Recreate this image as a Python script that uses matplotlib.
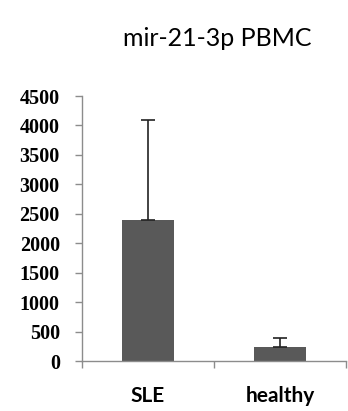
import matplotlib
matplotlib.use("Agg")
import matplotlib.pyplot as plt
from matplotlib.ticker import FixedLocator, NullFormatter

title = "mir-21-3p PBMC"
categories = ["SLE", "healthy"]
values = [2390, 245]
errors_up = [1710, 150]
yticks = [0, 500, 1000, 1500, 2000, 2500, 3000, 3500, 4000, 4500]

W, H = 348, 411
fig = plt.figure(figsize=(W / 100, H / 100), dpi=100)
left, right, bottom, top = 82, 346, 361, 96
ax = fig.add_axes([left / W, 1 - bottom / H, (right - left) / W, (bottom - top) / H])

x = list(range(len(categories)))
ax.bar(x, values, width=0.39, color="#595959", zorder=2)
ax.errorbar(x, values, yerr=[[0, 0], errors_up], fmt="none", ecolor="#222222",
            elinewidth=1.2, capsize=5, capthick=1.2, zorder=3)

ax.set_xlim(-0.5, len(categories) - 0.5)
ax.set_ylim(0, 4500)
ax.set_yticks(yticks)
ax.set_yticklabels([str(t) for t in yticks], fontfamily="Liberation Serif",
                   fontweight="bold", fontsize=14.5)
ax.set_xticks(x)
ax.set_xticklabels(categories, fontfamily="Lato", fontweight="bold", fontsize=15)
ax.xaxis.set_minor_locator(FixedLocator([-0.5, 0.5, 1.5]))
ax.xaxis.set_minor_formatter(NullFormatter())

for s in ["top", "right"]:
    ax.spines[s].set_visible(False)
for s in ["left", "bottom"]:
    ax.spines[s].set_color("#8c8c8c")
    ax.spines[s].set_linewidth(1.0)

ax.tick_params(axis="y", direction="out", length=5, width=1.0, color="#8c8c8c", pad=11)
ax.tick_params(axis="x", which="major", length=0, pad=18)
ax.tick_params(axis="x", which="minor", direction="out", length=5, width=1.0, color="#8c8c8c")

fig.text(217 / W, 1 - 38 / H, title, ha="center", va="center",
         fontfamily="Lato", fontsize=18)

fig.savefig("out.png", dpi=100)
